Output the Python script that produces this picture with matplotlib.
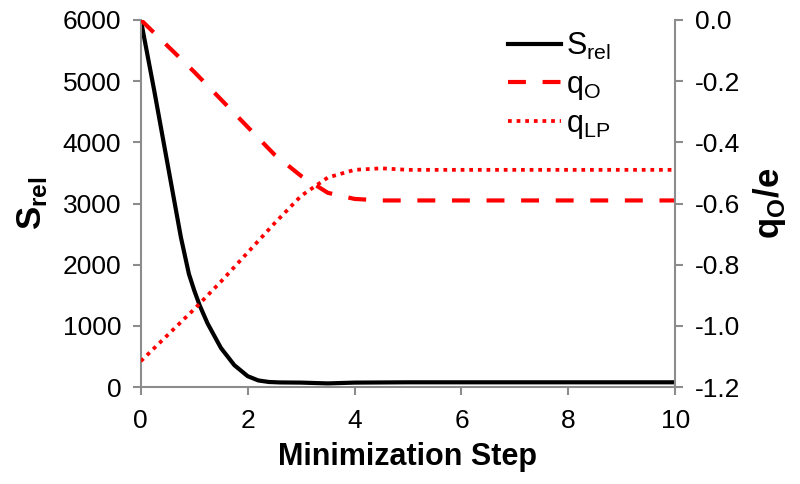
import matplotlib.pyplot as plt
import numpy as np

plt.rcParams['font.family'] = ['Liberation Sans', 'DejaVu Sans']

# S_rel curve (left axis)
s_step = [0, 0.25, 0.5, 0.75, 0.9, 1.0, 1.1, 1.25, 1.5, 1.75, 2.0, 2.2, 2.4, 2.6, 3.0, 3.5, 4.0, 5, 6, 7, 8, 9, 10]
s_rel = [6000, 4850, 3650, 2450, 1850, 1580, 1340, 1040, 640, 360, 180, 110, 85, 78, 75, 62, 75, 80, 80, 80, 80, 80, 80]

# charges (right axis)
q_step = [0, 0.5, 1, 1.5, 2, 2.5, 3, 3.5, 4, 4.5, 5, 6, 7, 8, 9, 10]
q_o = [0, -0.085, -0.17, -0.26, -0.35, -0.44, -0.51, -0.565, -0.585, -0.59, -0.59, -0.59, -0.59, -0.59, -0.59, -0.59]
q_lp = [-1.115, -1.03, -0.945, -0.855, -0.76, -0.665, -0.575, -0.515, -0.49, -0.485, -0.49, -0.49, -0.49, -0.49, -0.49, -0.49]

x_ticks = [0, 2, 4, 6, 8, 10]
s_ticks = [0, 1000, 2000, 3000, 4000, 5000, 6000]
q_ticks = [-1.2, -1.0, -0.8, -0.6, -0.4, -0.2, 0.0]
q_labels = ['-1.2', '-1.0', '-0.8', '-0.6', '-0.4', '-0.2', '0.0']

grey = '#8c8c8c'

fig = plt.figure(figsize=(8, 4.84), dpi=100)
ax1 = fig.add_axes([0.176, 0.2, 0.668, 0.759])
ax2 = ax1.twinx()

l1, = ax1.plot(s_step, s_rel, color='black', lw=3, solid_joinstyle='round')
l2, = ax2.plot(q_step, q_o, color='red', lw=3, linestyle=(0, (4.3, 4)))
l3, = ax2.plot(q_step, q_lp, color='red', lw=2.7, linestyle=(0, (1, 1.3)))

ax1.set_xlim(0, 10)
ax1.set_ylim(0, 6000)
ax2.set_ylim(-1.2, 0.0)
ax1.set_xticks(x_ticks)
ax1.set_yticks(s_ticks)
ax2.set_yticks(q_ticks)
ax2.set_yticklabels(q_labels)

for ax in (ax1, ax2):
    ax.spines['top'].set_visible(False)
    for s in ('left', 'right', 'bottom'):
        ax.spines[s].set_color(grey)
        ax.spines[s].set_linewidth(1.5)
    ax.tick_params(direction='out', length=6, width=1.5, color=grey, labelsize=19, pad=8)
ax1.spines['right'].set_visible(False)
ax2.spines['left'].set_visible(False)
ax2.spines['bottom'].set_visible(False)
ax1.tick_params(axis='x', pad=10)

ax1.set_xlabel('Minimization Step', fontsize=22, fontweight='bold', labelpad=6)
ax1.set_ylabel(r'S$_\mathregular{rel}$', fontsize=25, fontweight='bold', labelpad=10)
ax2.set_ylabel(r'q$_\mathregular{O}$/e', fontsize=25, fontweight='bold', labelpad=8)

leg = ax2.legend([l1, l2, l3],
                 [r'S$_\mathregular{rel}$', r'q$_\mathregular{O}$', r'q$_\mathregular{LP}$'],
                 loc='upper left', bbox_to_anchor=(0.635, 1.045), frameon=False,
                 fontsize=22, handlelength=1.75, handletextpad=0.15, labelspacing=0.25)

fig.savefig('out.png', dpi=100)
